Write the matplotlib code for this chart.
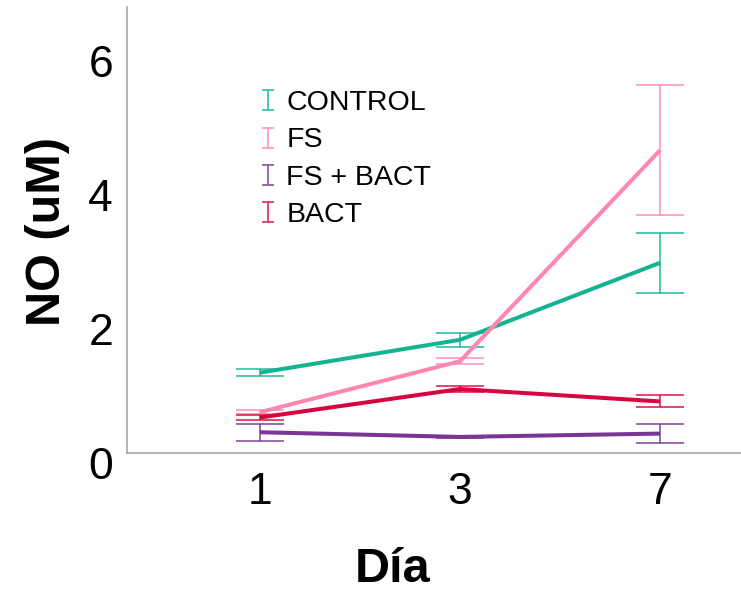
import numpy as np
import matplotlib
matplotlib.use("Agg")
import matplotlib.pyplot as plt
from matplotlib.path import Path
from matplotlib.lines import Line2D
import matplotlib.transforms as mtransforms

plt.rcParams['font.family'] = ['Liberation Sans', 'DejaVu Sans']

# datos
dias = ['1', '3', '7']
grupos = ['CONTROL', 'FS', 'FS + BACT', 'BACT']
medias = {
    'CONTROL':   [1.20, 1.69, 2.84],
    'FS':        [0.61, 1.37, 4.52],
    'FS + BACT': [0.31, 0.24, 0.29],
    'BACT':      [0.53, 0.955, 0.77],
}
errores = {
    'CONTROL':   [0.05, 0.10, 0.45],
    'FS':        [0.03, 0.045, 0.97],
    'FS + BACT': [0.125, 0.02, 0.14],
    'BACT':      [0.04, 0.04, 0.09],
}
colores = {
    'CONTROL':   '#14b393',
    'FS':        '#ff86ae',
    'FS + BACT': '#7a3694',
    'BACT':      '#d7053f',
}

fig = plt.figure(figsize=(7.41, 5.93), dpi=100)
ax = fig.add_axes([127/741, 140/593, 614/741, 446/593])

x = np.arange(len(dias))
for g in grupos:
    ax.plot(x, medias[g], color=colores[g], lw=2.9, solid_capstyle='butt', zorder=3)
    ax.errorbar(x, medias[g], yerr=errores[g], fmt='none', ecolor=colores[g],
                elinewidth=1.3, capsize=17, capthick=1.3, alpha=0.8, zorder=2)

ax.set_xlim(-0.665, 2.405)
ax.set_ylim(0, 6.66)
ax.set_xticks(x)
ax.set_xticklabels(dias)
ax.set_yticks([0, 2, 4, 6])
ax.tick_params(length=0, labelsize=32, pad=10)
ax.tick_params(axis='x', pad=14)
for lab in ax.get_yticklabels():
    lab.set_transform(lab.get_transform() +
                      mtransforms.ScaledTranslation(0, -10/100, fig.dpi_scale_trans))

for s in ['top', 'right']:
    ax.spines[s].set_visible(False)
for s in ['left', 'bottom']:
    ax.spines[s].set_color('#a8a8a8')
    ax.spines[s].set_linewidth(1.2)

fig.text(393/741, 1 - 570/593, 'Día', fontsize=35, fontweight='bold',
         ha='center', va='center')
fig.text(47/741, 1 - 232/593, 'NO (uM)', fontsize=35, fontweight='bold',
         ha='center', va='center', rotation=90)

# simbolo "I" de la leyenda
verts = [(-0.3, 0.5), (0.3, 0.5), (0, 0.5), (0, -0.5), (-0.3, -0.5), (0.3, -0.5)]
codes = [Path.MOVETO, Path.LINETO, Path.MOVETO, Path.LINETO, Path.MOVETO, Path.LINETO]
marcaI = Path(verts, codes)
handles = [Line2D([], [], linestyle='none', marker=marcaI, markersize=15,
                  markerfacecolor='none', markeredgecolor=colores[g],
                  markeredgewidth=1.3, alpha=0.8) for g in grupos]
ax.legend(handles, grupos, loc='upper left', bbox_to_anchor=(0.192, 0.845),
          frameon=False, fontsize=20.5, handlelength=0.6, handletextpad=0.35,
          labelspacing=0.39, borderpad=0)

fig.savefig('out.png', dpi=100)
